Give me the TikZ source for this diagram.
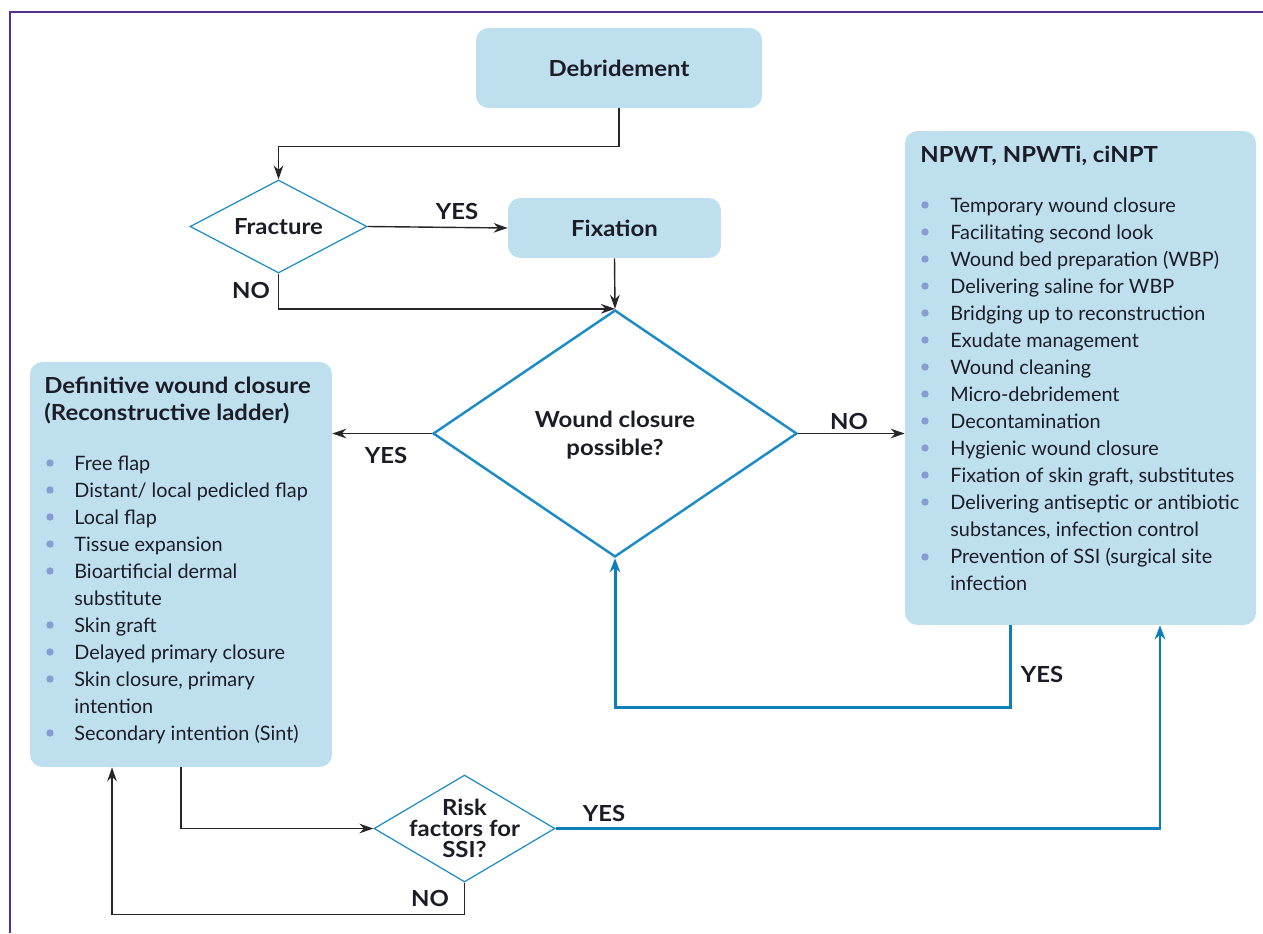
\documentclass[tikz,border=0pt]{standalone}
\usepackage{fontspec}
\setmainfont{Lato}[BoldFeatures={FakeStretch=1.08}]
\usetikzlibrary{shapes.geometric,arrows.meta}
\definecolor{boxblue}{RGB}{190,223,238}
\definecolor{diablue}{RGB}{28,140,198}
\definecolor{arrblue}{RGB}{12,126,186}
\definecolor{bulcol}{RGB}{135,156,210}
\definecolor{txtcol}{RGB}{28,28,38}
\definecolor{arrgray}{RGB}{40,38,40}
\definecolor{framecol}{RGB}{88,48,140}
\newcommand\bfsz{\bfseries\fontsize{12.6}{13}\selectfont}
\tikzset{
  box/.style={fill=boxblue, rounded corners=7pt, inner sep=0pt, text=txtcol},
  dia/.style={diamond, draw=diablue, inner sep=0pt, line width=0.7pt},
  dtxt/.style={font=\bfsz, align=center, text=txtcol, inner sep=0pt},
  lbl/.style={font=\bfsz, text=txtcol},
  itm/.style={anchor=base west, inner sep=0pt, text=txtcol},
  dot/.style={circle, fill=bulcol, inner sep=0pt, minimum size=4.2pt},
  arr/.style={-{Stealth[length=8pt,width=5.5pt]}, line width=0.8pt, draw=arrgray},
  barr/.style={-{Stealth[length=8pt,width=6pt]}, line width=1.7pt, draw=arrblue},
}
\begin{document}
\fontsize{11.3}{14}\selectfont
\begin{tikzpicture}[x=0.02cm,y=-0.02cm]
\useasboundingbox (0,0) rectangle (1263,933);
\draw[framecol, line width=0.9pt] (10,933) -- (10,12) -- (1263,12);

% boxes
\node[box, minimum width=5.72cm, minimum height=1.6cm] (deb) at (619,68) {\bfsz Debridement};
\node[box, minimum width=4.26cm, minimum height=1.2cm] (fix) at (614.5,228) {\bfsz Fixation};
\node[box, minimum width=7.02cm, minimum height=9.88cm] (npwt) at (1080.5,378) {};
\node[box, minimum width=6.04cm, minimum height=8.1cm] (dwc) at (181,564.5) {};

% decisions
\node[dia, minimum width=3.54cm, minimum height=1.86cm] (frac) at (278.5,226.5) {};
\node[dtxt] (frac-t) at (frac) {Fracture};
\node[dia, line width=1.4pt, minimum width=7.28cm, minimum height=4.94cm] (wcp) at (615,433.5) {};
\node[dtxt, font=\bfseries\fontsize{12.6}{16}\selectfont] (wcp-t) at (615,435) {Wound closure\\possible?};
\node[dia, minimum width=3.62cm, minimum height=2.14cm] (risk) at (464.5,828.5) {};
\node[dtxt, font=\bfseries\fontsize{12.6}{12}\selectfont] (risk-t) at (risk) {Risk\\factors for\\SSI?};

% NPWT list
\node[itm, font=\bfsz] (np-title) at (920,162) {NPWT, NPWTi, ciNPT};
\foreach \t [count=\k from 0] in {Temporary wound closure, Facilitating second look,
  Wound bed preparation (WBP), Delivering saline for WBP, Bridging up to reconstruction,
  Exudate management, Wound cleaning, Micro-debridement, Decontamination,
  Hygienic wound closure, {Fixation of skin graft, substitutes}, Delivering antiseptic or antibiotic}
{
  \node[dot] (npd\k) at (925,205+27*\k) {};
  \node[itm] (npi\k) at (950,212+27*\k) {\t};
}
\node[itm] (npi12) at (950,536) {substances, infection control};
\node[dot] (npd13) at (925,557) {};
\node[itm] (npi13) at (950,563) {Prevention of SSI (surgical site};
\node[itm] (npi14) at (950,590) {infection};

% reconstructive ladder
\node[itm, font=\bfsz] (dw-title1) at (44,393) {Definitive wound closure};
\node[itm, font=\bfsz] (dw-title2) at (44,420) {(Reconstructive ladder)};
\foreach \y/\t in {470/Free flap, 497/{Distant/ local pedicled flap}, 524/Local flap,
  551/Tissue expansion, 578/Bioartificial dermal, 632/Skin graft,
  659/Delayed primary closure, 686/{Skin closure, primary}, 740/Secondary intention (Sint)}
{
  \node[dot] (dwd\y) at (50,\y-7) {};
  \node[itm] (dwi\y) at (74,\y) {\t};
}
\node[itm] (dwi605) at (74,605) {substitute};
\node[itm] (dwi713) at (74,713) {intention};

% connectors
\draw[arr] (deb.south) -- ++(0,38) -| (frac.north);
\draw[arr] (frac.east) -- (fix.west);
\draw[arr] (fix.south) -- (wcp.north);
\draw[arr] (frac.south) |- (wcp.north);
\draw[arr] (wcp.west) -- (wcp.west -| dwc.east);
\draw[arr] (wcp.east) -- (wcp.east -| npwt.west);
\draw[barr] ([xshift=-1.41cm]npwt.south) -- ++(0,82) -| (wcp.south);
\draw[arr] (dwc.south) |- (risk.west);
\draw[barr] (risk.east) -| ([xshift=1.59cm]npwt.south);
\draw[arr] (risk.south) -- ++(0,32) -| ([xshift=-1.38cm]dwc.south);

% labels
\node[lbl] (yes1) at (457,211) {YES};
\node[lbl] (no1) at (251,290) {NO};
\node[lbl] (yes2) at (386,455) {YES};
\node[lbl] (no2) at (849,421) {NO};
\node[lbl] (yes3) at (1042,674) {YES};
\node[lbl] (yes4) at (604,813) {YES};
\node[lbl] (no3) at (430,898) {NO};
\end{tikzpicture}
\end{document}
